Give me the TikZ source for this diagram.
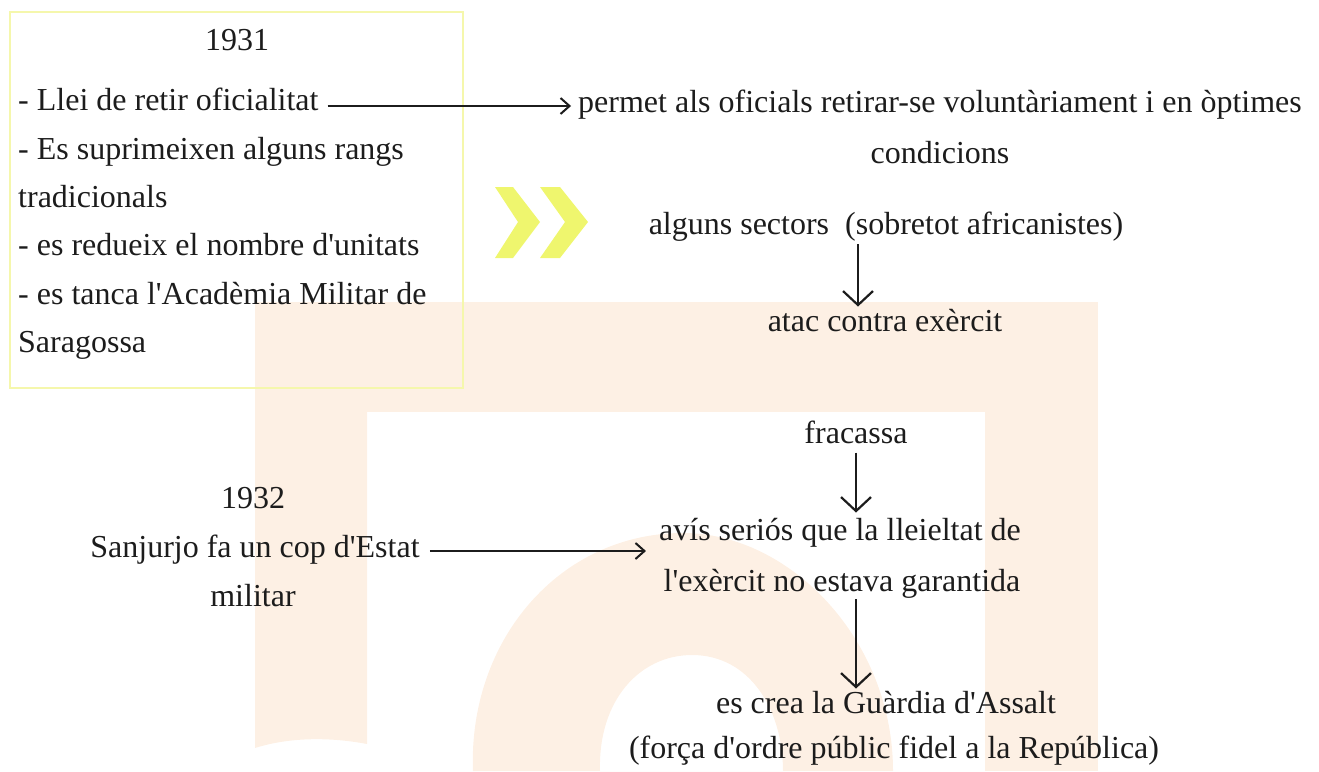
\documentclass[tikz,border=0pt]{standalone}
\usepackage{fontspec}
\setmainfont{Liberation Serif}[Ligatures=TeXOff]
\usetikzlibrary{arrows.meta}
\definecolor{peach}{RGB}{253,240,228}
\definecolor{boxyellow}{RGB}{245,247,172}
\definecolor{chev}{RGB}{236,245,85}
\definecolor{ink}{RGB}{28,28,28}
\begin{document}
\begin{tikzpicture}[x=1pt,y=-1pt,
  txt/.style={font=\fontsize{32}{40}\selectfont, text=ink, inner sep=0pt, anchor=base},
  ltxt/.style={txt, anchor=base west},
  harr/.style={draw=ink, line width=2.4pt, -{Straight Barb[length=9pt,width=16pt,line width=2pt]}},
  varr/.style={draw=ink, line width=2pt, -{Straight Barb[length=14pt,width=30pt,line width=2.2pt]}},
  bg/.style={fill=peach, draw=none},
  chevron/.style={fill=chev, draw=none, opacity=0.85}
]
\useasboundingbox (0,0) rectangle (1319,771);
% background logo shapes
\fill[bg] (255,302) rectangle (1098,412);
\fill[bg] (255,412) -- (367,412) -- (367,744) .. controls (330,737) and (290,737) .. (255,748) -- cycle;
\fill[bg] (985,412) rectangle (1098,771);
\fill[bg, even odd rule] (473,771) .. controls (468,640) and (560,533) .. (683,533) .. controls (790,533) and (893,640) .. (893,771) -- cycle
  (600,771) .. controls (598,700) and (640,655) .. (692,655) .. controls (750,655) and (783,710) .. (783,771) -- cycle;
% chevrons
\fill[chevron] (495,187) -- (513,187) -- (540,222) -- (513,258) -- (495,258) -- (518,222) -- cycle;
\fill[chevron] (540,187) -- (560,187) -- (588,222) -- (560,258) -- (540,258) -- (565,222) -- cycle;
% 1931 box
\node[draw=boxyellow, line width=2.6pt, minimum width=453pt, minimum height=376pt, inner sep=0pt] (box) at (236.5,200) {};
\node[txt] (y1931) at (237,50) {1931};
\node[ltxt] (l1) at (18,110) {- Llei de retir oficialitat};
\node[ltxt] (l2) at (18,159) {- Es suprimeixen alguns rangs};
\node[ltxt] (l3) at (18,207) {tradicionals};
\node[ltxt] (l4) at (18,255) {- es redueix el nombre d'unitats};
\node[ltxt] (l5) at (18,304) {- es tanca l'Acadèmia Militar de};
\node[ltxt] (l6) at (18,352) {Saragossa};
% right column
\node[txt] (perm1) at (940,112) {permet als oficials retirar-se voluntàriament i en òptimes};
\node[txt] (perm2) at (940,163) {condicions};
\node[txt] (sect) at (886,234) {alguns sectors\ \ (sobretot africanistes)};
\node[txt] (atac) at (885,331) {atac contra exèrcit};
\node[txt] (fra) at (856,443) {fracassa};
\node[txt] (avis1) at (840,540) {avís seriós que la lleieltat de};
\node[txt] (avis2) at (842,591) {l'exèrcit no estava garantida};
\node[txt] (gua1) at (886,713) {es crea la Guàrdia d'Assalt};
\node[txt] (gua2) at (894,758) {(força d'ordre públic fidel a la República)};
% 1932
\node[txt] (y1932) at (253,508) {1932};
\node[txt] (sanj1) at (255,557) {Sanjurjo fa un cop d'Estat};
\node[txt] (sanj2) at (253,606) {militar};
% connectors
\coordinate (a1s) at ([xshift=9pt,yshift=4pt]l1.base east);
\draw[harr, shorten >=7pt] (a1s) -- (a1s -| perm1.west);
\coordinate (a5s) at ([xshift=10pt,yshift=6pt]sanj1.base east);
\draw[harr, shorten >=13pt] (a5s) -- (a5s -| avis1.west);
\coordinate (vx1) at (858,0);
\coordinate (vx2) at (856,0);
\draw[varr, shorten <=3pt, shorten >=2pt] (sect.south -| vx1) -- (atac.north -| vx1);
\draw[varr, shorten <=9pt, shorten >=5pt] (fra.south -| vx2) -- (avis1.north -| vx2);
\draw[varr, shorten <=1pt, shorten >=2pt] (avis2.south -| vx2) -- (gua1.north -| vx2);
\end{tikzpicture}
\end{document}
